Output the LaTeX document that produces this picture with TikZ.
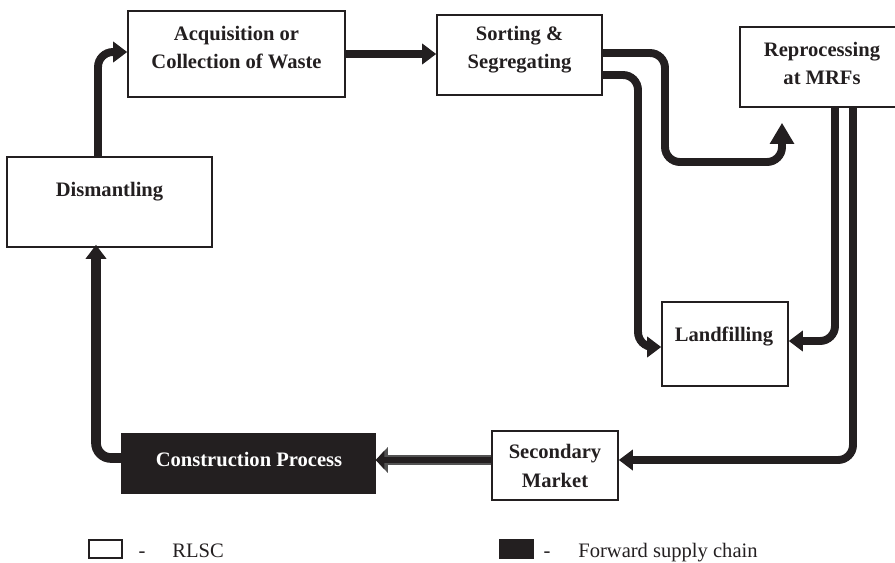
\documentclass[tikz,border=0pt]{standalone}
\usepackage{fontspec}
\setmainfont{Liberation Serif}
\usepackage{tikz}
\usetikzlibrary{arrows.meta}
\definecolor{ink}{RGB}{35,31,32}

\tikzset{
  box/.style={draw=ink, line width=0.9pt, inner sep=0pt},
  txt/.style={font=\fontsize{11.7}{16}\selectfont\bfseries, align=center, inner sep=0pt, text=ink},
  key/.style={font=\fontsize{11.7}{16}\selectfont, inner sep=0pt, text=ink},
  flow/.style={draw=ink, line width=4.5pt, rounded corners=0.3cm, -{Triangle[length=0.28cm,width=0.4cm]}},
}

\begin{document}
\begin{tikzpicture}[x=0.02cm,y=-0.02cm]
\clip (0,0) rectangle (895,562);

\node[box, minimum width=4.34cm, minimum height=1.72cm] (acq) at (236.5,54) {};
\node[box, minimum width=3.3cm, minimum height=1.6cm] (sort) at (519.5,55) {};
\node[box, minimum width=3.28cm, minimum height=1.6cm] (rep) at (822,67) {};
\node[box, minimum width=4.1cm, minimum height=1.8cm] (dis) at (109.5,202) {};
\node[box, minimum width=2.52cm, minimum height=1.68cm] (land) at (725,344) {};
\node[box, minimum width=2.52cm, minimum height=1.38cm] (sec) at (555,465.5) {};
\node[box, fill=ink, minimum width=5.06cm, minimum height=1.18cm] (con) at (248.5,463.5) {};

\node[txt] (acqT) at (236.5,47.5) {Acquisition or\\Collection of Waste};
\node[txt] (sortT) at (519.5,50) {Sorting \&\\Segregating};
\node[txt] (repT) at (822,63.5) {Reprocessing\\at MRFs};
\node[txt] (disT) at (109.5,192) {Dismantling};
\node[txt] (landT) at (724,337) {Landfilling};
\node[txt] (secT) at (555,466) {Secondary\\Market};
\node[txt, text=white] (conT) at (249,459) {Construction Process};

\draw[flow] ([xshift=-0.23cm]dis.north) |- ([yshift=0.04cm]acq.west);
\draw[flow] (acq.east) -- (acq.east -| sort.west);
\draw[flow, -{Triangle[length=0.42cm,width=0.46cm]}] ([yshift=0.04cm]sort.east) -- (665,53) |- (782,162) -- ([xshift=-0.8cm,yshift=-0.3cm]rep.south);
\draw[flow] ([yshift=-0.4cm]sort.east) -- (638,75) |- ([yshift=-0.06cm]land.west);
\draw[flow] ([xshift=0.26cm]rep.south) |- ([yshift=0.06cm]land.east);
\draw[flow] ([xshift=0.62cm]rep.south) |- ([yshift=0.11cm]sec.east);
\draw[ink, line width=3.4pt, -{Triangle[length=0.17cm,width=0.36cm]},
  preaction={draw=gray!65!black, line width=5.7pt, -{Triangle[length=0.24cm,width=0.5cm]}}]
  ([yshift=0.11cm]sec.west) -- ([yshift=0.11cm]sec.west -| con.east);
\draw[flow, line width=5.5pt] ([yshift=0.11cm]con.west) -| ([xshift=-0.27cm,yshift=0.06cm]dis.south);

\node[box, minimum width=0.66cm, minimum height=0.36cm] (keyR) at (105.5,549) {};
\node[key, anchor=base] (dashR) at (142,557) {-};
\node[key, anchor=base west] (txtR) at (172,557) {RLSC};
\node[box, fill=ink, minimum width=0.66cm, minimum height=0.38cm] (keyF) at (516.5,549) {};
\node[key, anchor=base] (dashF) at (547,557) {-};
\node[key, anchor=base west] (txtF) at (578,557) {Forward supply chain};
\end{tikzpicture}
\end{document}
